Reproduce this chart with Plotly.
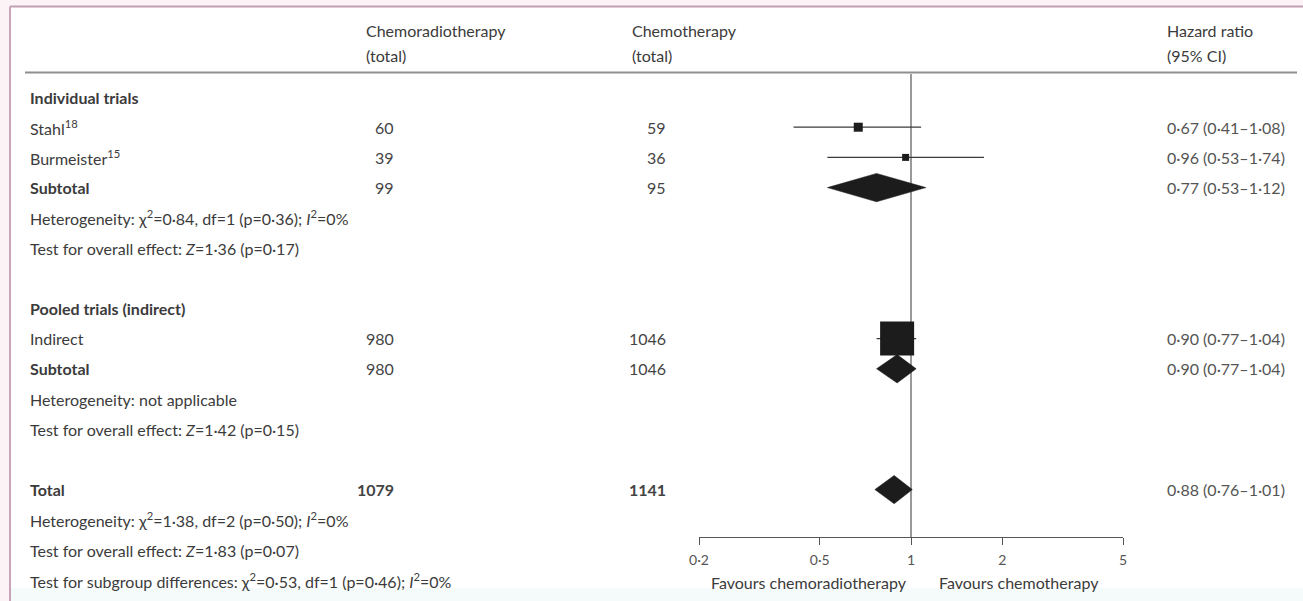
import math
import plotly.graph_objects as go

# ---- table content -------------------------------------------------------
row_labels = [
    "<b>Individual trials</b>",
    "Stahl<sup>18</sup>",
    "Burmeister<sup>15</sup>",
    "<b>Subtotal</b>",
    "Heterogeneity: χ<sup>2</sup>=0·84, df=1 (p=0·36); <i>I</i><sup>2</sup>=0%",
    "Test for overall effect: <i>Z</i>=1·36 (p=0·17)",
    "",
    "<b>Pooled trials (indirect)</b>",
    "Indirect",
    "<b>Subtotal</b>",
    "Heterogeneity: not applicable",
    "Test for overall effect: <i>Z</i>=1·42 (p=0·15)",
    "",
    "<b>Total</b>",
    "Heterogeneity: χ<sup>2</sup>=1·38, df=2 (p=0·50); <i>I</i><sup>2</sup>=0%",
    "Test for overall effect: <i>Z</i>=1·83 (p=0·07)",
    "Test for subgroup differences: χ<sup>2</sup>=0·53, df=1 (p=0·46); <i>I</i><sup>2</sup>=0%",
]

# rows that carry an estimate
est_rows = [1, 2, 3, 8, 9, 13]
est_kind = ["square", "square", "diamond", "square", "diamond", "diamond"]
crt_total = ["60", "39", "99", "980", "980", "<b>1079</b>"]
ct_total = ["59", "36", "95", "1046", "1046", "<b>1141</b>"]
hr = [0.67, 0.96, 0.77, 0.90, 0.90, 0.88]
ci_low = [0.41, 0.53, 0.53, 0.77, 0.77, 0.76]
ci_high = [1.08, 1.74, 1.12, 1.04, 1.04, 1.01]
square_size = [9, 7, None, 34, None, None]

tick_vals = [0.2, 0.5, 1, 2, 5]
tick_text = ["0·2", "0·5", "1", "2", "5"]


def fmt(v):
    return f"{v:.2f}".replace(".", "·")


hr_text = [f"{fmt(h)} ({fmt(l)}–{fmt(u)})" for h, l, u in zip(hr, ci_low, ci_high)]

# ---- geometry ------------------------------------------------------------
W, H = 1303, 601
ROW0, ROWSTEP = 97.0, 30.2          # pixel y of first row, row spacing
AXIS_PX = 537.0                     # pixel y of the HR axis line
X_LEFT_PX, X_RIGHT_PX = 699.0, 1123.0

y_top = -ROW0 / ROWSTEP
y_bot = (H - ROW0) / ROWSTEP


def px_x(p):
    return p / W


def px_y(p):
    return 1 - p / H


FONT = "Lato"
FS = 16
TXT = "#3b3b3b"
NUM = "#444444"
HRC = "#555555"
INK = "#1c1c1c"

fig = go.Figure()

# confidence interval whiskers
for r, lo, hi, k in zip(est_rows, ci_low, ci_high, est_kind):
    if k == "square":
        fig.add_trace(go.Scatter(
            x=[lo, hi], y=[r, r], mode="lines",
            line=dict(color="#3a3a3a", width=1.2),
            hoverinfo="skip", showlegend=False))

# study squares
sq_idx = [i for i, k in enumerate(est_kind) if k == "square"]
fig.add_trace(go.Scatter(
    x=[hr[i] for i in sq_idx], y=[est_rows[i] for i in sq_idx],
    mode="markers",
    marker=dict(symbol="square", size=[square_size[i] for i in sq_idx],
                color=INK, opacity=1, line=dict(width=0)),
    hoverinfo="skip", showlegend=False, cliponaxis=False))

# pooled diamonds
HALF = 0.47
for i, k in enumerate(est_kind):
    if k == "diamond":
        r = est_rows[i]
        fig.add_trace(go.Scatter(
            x=[ci_low[i], hr[i], ci_high[i], hr[i], ci_low[i]],
            y=[r, r - HALF, r, r + HALF, r],
            mode="lines", fill="toself", fillcolor=INK,
            line=dict(color=INK, width=0.5),
            hoverinfo="skip", showlegend=False))

annotations = []


def add_text(x_px, row, text, anchor="left", color=TXT, size=FS):
    annotations.append(dict(
        x=px_x(x_px), xref="paper", y=row, yref="y", text=text,
        showarrow=False, xanchor=anchor, yanchor="middle",
        font=dict(family=FONT, size=size, color=color)))


for r, lab in enumerate(row_labels):
    if lab:
        add_text(28, r, lab)

for r, a, b, t in zip(est_rows, crt_total, ct_total, hr_text):
    add_text(396, r, a, anchor="right", color=NUM)
    add_text(668, r, b, anchor="right", color=NUM)
    add_text(1165, r, t, color=HRC)

# column headers
for x0, l1, l2 in [(364, "Chemoradiotherapy", "(total)"),
                   (630, "Chemotherapy", "(total)"),
                   (1165, "Hazard ratio", "(95% CI)")]:
    for ypx, s in [(31, l1), (55, l2)]:
        annotations.append(dict(
            x=px_x(x0), xref="paper", y=px_y(ypx), yref="paper", text=s,
            showarrow=False, xanchor="left", yanchor="middle",
            font=dict(family=FONT, size=FS, color=TXT)))

# direction labels under the axis
for x0, s, anc in [(909, "Favours chemoradiotherapy", "right"),
                   (937, "Favours chemotherapy", "left")]:
    annotations.append(dict(
        x=px_x(x0), xref="paper", y=px_y(582), yref="paper", text=s,
        showarrow=False, xanchor=anc, yanchor="middle",
        font=dict(family=FONT, size=FS, color=TXT)))

shapes = [
    # white panel inside the frame
    dict(type="rect", xref="paper", yref="paper", layer="below",
         x0=px_x(11), x1=1, y0=px_y(588), y1=px_y(7.5),
         fillcolor="white", line=dict(width=0)),
    dict(type="rect", xref="paper", yref="paper", layer="below",
         x0=px_x(11), x1=1, y0=0, y1=px_y(588),
         fillcolor="#f4fbfa", line=dict(width=0)),
    # frame lines
    dict(type="line", xref="paper", yref="paper",
         x0=px_x(10), x1=1, y0=px_y(6.5), y1=px_y(6.5),
         line=dict(color="#bf9fb0", width=2)),
    dict(type="line", xref="paper", yref="paper",
         x0=px_x(10), x1=px_x(10), y0=0, y1=px_y(6.5),
         line=dict(color="#c9a3b8", width=2)),
    # header rule
    dict(type="line", xref="paper", yref="paper",
         x0=px_x(25), x1=px_x(1297), y0=px_y(72.5), y1=px_y(72.5),
         line=dict(color="#8f8f8f", width=2)),
    # line of no effect
    dict(type="line", xref="x", yref="paper", layer="below",
         x0=1, x1=1, y0=px_y(AXIS_PX), y1=px_y(74),
         line=dict(color="#9a9a9a", width=2)),
]

fig.update_layout(
    width=W, height=H,
    margin=dict(l=0, r=0, t=0, b=0, autoexpand=False),
    paper_bgcolor="#fcf3f6",
    plot_bgcolor="rgba(0,0,0,0)",
    showlegend=False,
    annotations=annotations,
    shapes=shapes,
    xaxis=dict(
        type="log",
        domain=[px_x(X_LEFT_PX), px_x(X_RIGHT_PX)],
        range=[math.log10(0.2), math.log10(5)],
        anchor="free", position=px_y(AXIS_PX),
        showline=True, linecolor="#555555", linewidth=1,
        ticks="outside", ticklen=7, tickwidth=1, tickcolor="#555555",
        tickvals=tick_vals, ticktext=tick_text,
        tickfont=dict(family=FONT, size=14, color="#555555"),
        ticklabelstandoff=3,
        showgrid=False, zeroline=False, fixedrange=True,
    ),
    yaxis=dict(
        domain=[0, 1], range=[y_bot, y_top],
        visible=False, fixedrange=True,
    ),
)

fig.write_html("out.html")
